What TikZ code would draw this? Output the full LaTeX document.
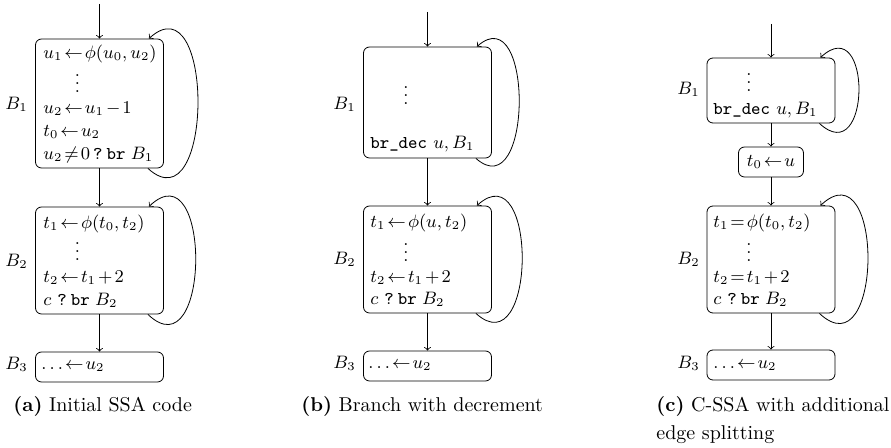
\documentclass[tikz,border=0pt]{standalone}
\newcommand\cfgloop[3]{\draw[flow] ([xshift=-8pt]#1.south east) .. controls +(#2,#3) and +(#2,-#3) .. ([xshift=-7.5pt]#1.north east);}
\newcommand\cfgvdots{\vbox{\baselineskip4pt\lineskiplimit0pt\hbox{.}\hbox{.}\hbox{.}}}
\newcommand\cfgbr[2]{#1\texttt{?}\hspace{2pt}\texttt{br}\hspace{2.7pt}$B_#2$}
\begin{document}
\thickmuskip=2mu\relax
\medmuskip=2mu\relax
\begin{tikzpicture}[x=0.5pt,y=-0.5pt,
  blk/.style={draw, rounded corners=3pt, inner sep=0pt, minimum width=64pt},
  code/.style={anchor=base west, inner sep=0pt, font=\fontsize{9}{11}\selectfont},
  dotsn/.style={anchor=south, inner sep=0pt, font=\fontsize{9}{11}\selectfont},
  lbl/.style={anchor=base east, inner sep=0pt, font=\fontsize{9}{11}\selectfont},
  captxt/.style={anchor=base west, inner sep=0pt, font=\fontsize{10}{14}\selectfont},
  flow/.style={->},
]
\useasboundingbox (0,0) rectangle (891,448);

% ---------- panel (a)
\coordinate (a0) at (99.5,4);
\node[blk, minimum height=64.5pt] (a1) at (99.5,103.5) {};
\node[blk, minimum height=53.5pt] (a2) at (99.5,260.5) {};
\node[blk, minimum height=15pt] (a3) at (99.5,367) {};
\node[lbl] (la1) at (28,110) {$B_1$};
\node[lbl] (la2) at (28,267) {$B_2$};
\node[lbl] (la3) at (28,370) {$B_3$};
\node[code] (a1l1) at (43,59) {$u_1\leftarrow\phi(u_0,u_2)$};
\node[dotsn] (a1d) at (77.5,93) {\cfgvdots};
\node[code] (a1l3) at (43,114) {$u_2\leftarrow u_1-1$};
\node[code] (a1l4) at (43,137) {$t_0\leftarrow u_2$};
\node[code] (a1l5) at (43,160) {\cfgbr{$u_2\neq 0$\hspace{1.5pt}}{1}};
\node[code] (a2l1) at (43,229) {$t_1\leftarrow\phi(t_0,t_2)$};
\node[dotsn] (a2d) at (77.5,261) {\cfgvdots};
\node[code] (a2l3) at (43,283) {$t_2\leftarrow t_1+2$};
\node[code] (a2l4) at (43,306) {\cfgbr{$c$\hspace{3pt}}{2}};
\node[code] (a3l1) at (41,370) {$\ldots\leftarrow u_2$};
\draw[flow] (a0) -- (a1);
\draw[flow] (a1) -- (a2);
\draw[flow] (a2) -- (a3);
\cfgloop{a1}{66}{60}
\cfgloop{a2}{63}{60}
\node[captxt] (capa) at (13,412) {\textbf{(a)} Initial SSA code};

% ---------- panel (b)
\coordinate (b0) at (427.5,12);
\node[blk, minimum height=55.5pt] (b1) at (427.5,102.5) {};
\node[blk, minimum height=53.5pt] (b2) at (427.5,259.5) {};
\node[blk, minimum height=15pt] (b3) at (427.5,366) {};
\node[lbl] (lb1) at (356,110) {$B_1$};
\node[lbl] (lb2) at (356,265) {$B_2$};
\node[lbl] (lb3) at (356,369) {$B_3$};
\node[dotsn] (b1d) at (406,105) {\cfgvdots};
\node[code] (b1l2) at (370,149) {\texttt{br\_dec} $u, B_1$};
\node[code] (b2l1) at (370,228) {$t_1\leftarrow\phi(u,t_2)$};
\node[dotsn] (b2d) at (406,262) {\cfgvdots};
\node[code] (b2l3) at (370,283) {$t_2\leftarrow t_1+2$};
\node[code] (b2l4) at (370,305) {\cfgbr{$c$\hspace{3pt}}{2}};
\node[code] (b3l1) at (368,369) {$\ldots\leftarrow u_2$};
\draw[flow] (b0) -- (b1);
\draw[flow] (b1) -- (b2);
\draw[flow] (b2) -- (b3);
\cfgloop{b1}{57}{50}
\cfgloop{b2}{61}{55}
\node[captxt] (capb) at (301,412) {\textbf{(b)} Branch with decrement};

% ---------- panel (c)
\coordinate (c0) at (771,24);
\node[blk, minimum height=32.5pt] (c1) at (771,90.5) {};
\node[blk, minimum width=32.5pt, minimum height=15pt, font=\fontsize{9}{11}\selectfont] (cs) at (771,162) {$t_0\leftarrow u$};
\node[blk, minimum height=53.5pt] (c2) at (771,259.5) {};
\node[blk, minimum height=15pt] (c3) at (771,365) {};
\node[lbl] (lc1) at (700,95) {$B_1$};
\node[lbl] (lc2) at (700,265) {$B_2$};
\node[lbl] (lc3) at (700,369) {$B_3$};
\node[dotsn] (c1d) at (749,92) {\cfgvdots};
\node[code] (c1l2) at (713,115) {\texttt{br\_dec} $u, B_1$};
\node[code] (c2l1) at (713,228) {$t_1=\phi(t_0,t_2)$};
\node[dotsn] (c2d) at (749,262) {\cfgvdots};
\node[code] (c2l3) at (713,283) {$t_2=t_1+2$};
\node[code] (c2l4) at (713,305) {\cfgbr{$c$\hspace{3pt}}{2}};
\node[code] (c3l1) at (713,369) {$\ldots\leftarrow u_2$};
\draw[flow] (c0) -- (c1);
\draw[flow] (c1) -- (cs);
\draw[flow] (cs) -- (c2);
\draw[flow] (c2) -- (c3);
\cfgloop{c1}{52}{48}
\cfgloop{c2}{64}{60}
\node[captxt] (capc1) at (656,412) {\textbf{(c)} C-SSA with additional};
\node[captxt] (capc2) at (656,440) {edge splitting};
\end{tikzpicture}
\end{document}
